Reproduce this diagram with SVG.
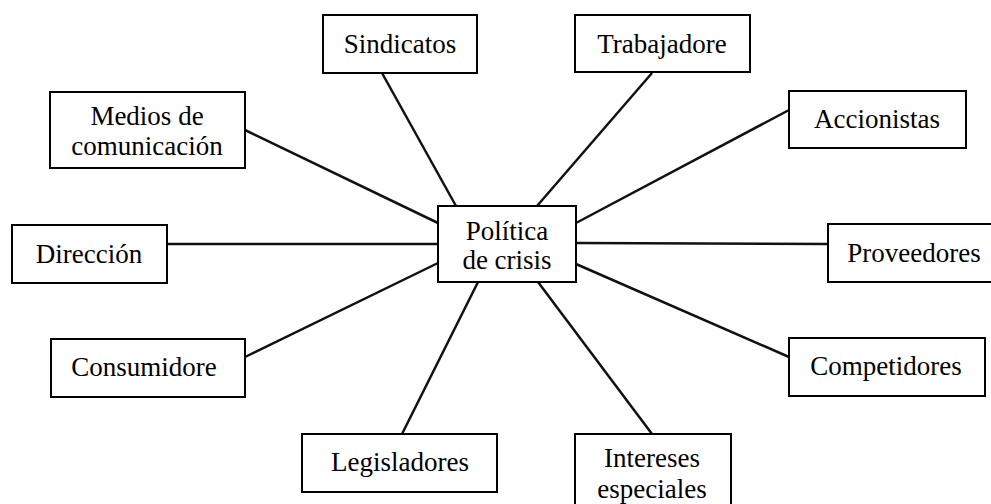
<svg xmlns="http://www.w3.org/2000/svg" width="991" height="504" viewBox="0 0 991 504">
<style>
.box{fill:#fff;stroke:#000;stroke-width:2}
.lbl{font-family:"Liberation Serif","Times New Roman",serif;font-size:27px;fill:#000;text-anchor:middle}
.ln{stroke:#111;stroke-width:2.5;fill:none}
</style>
<rect width="991" height="504" fill="#fff"/>
<g id="connectors">
<line class="ln" x1="382" y1="73" x2="456" y2="206"/>
<line class="ln" x1="652" y1="73" x2="537" y2="206"/>
<line class="ln" x1="245" y1="130" x2="438" y2="223"/>
<line class="ln" x1="167" y1="244" x2="438" y2="244" stroke-width="1.8"/>
<line class="ln" x1="245" y1="357" x2="438" y2="263"/>
<line class="ln" x1="402" y1="434" x2="478" y2="282"/>
<line class="ln" x1="652" y1="434" x2="538" y2="282"/>
<line class="ln" x1="789" y1="357" x2="576" y2="264"/>
<line class="ln" x1="828" y1="244" x2="576" y2="243"/>
<line class="ln" x1="789" y1="110" x2="576" y2="223"/>
</g>
<g id="center"><rect class="box" x="438" y="206" width="138" height="76"/><text class="lbl" x="507" y="240">Política</text><text class="lbl" x="507" y="269">de crisis</text></g>
<g id="sindicatos"><rect class="box" x="323" y="15" width="154" height="58"/><text class="lbl" x="400" y="53">Sindicatos</text></g>
<g id="trabajadore"><rect class="box" x="575" y="15" width="175" height="57"/><text class="lbl" x="662" y="53">Trabajadore</text></g>
<g id="medios"><rect class="box" x="50" y="92" width="195" height="76"/><text class="lbl" x="147" y="125">Medios de</text><text class="lbl" x="147" y="155">comunicación</text></g>
<g id="accionistas"><rect class="box" x="789" y="91" width="177" height="57"/><text class="lbl" x="877" y="128">Accionistas</text></g>
<g id="direccion"><rect class="box" x="12" y="225" width="155" height="58"/><text class="lbl" x="89" y="263">Dirección</text></g>
<g id="proveedores"><rect class="box" x="828" y="224" width="180" height="58"/><text class="lbl" x="914" y="262">Proveedores</text></g>
<g id="consumidore"><rect class="box" x="51" y="339" width="194" height="58"/><text class="lbl" x="144" y="376">Consumidore</text></g>
<g id="competidores"><rect class="box" x="789" y="338" width="196" height="58"/><text class="lbl" x="886" y="375">Competidores</text></g>
<g id="legisladores"><rect class="box" x="302" y="434" width="195" height="58"/><text class="lbl" x="400" y="471">Legisladores</text></g>
<g id="intereses"><rect class="box" x="575" y="434" width="156" height="80"/><text class="lbl" x="652" y="467">Intereses</text><text class="lbl" x="652" y="498">especiales</text></g>
</svg>
